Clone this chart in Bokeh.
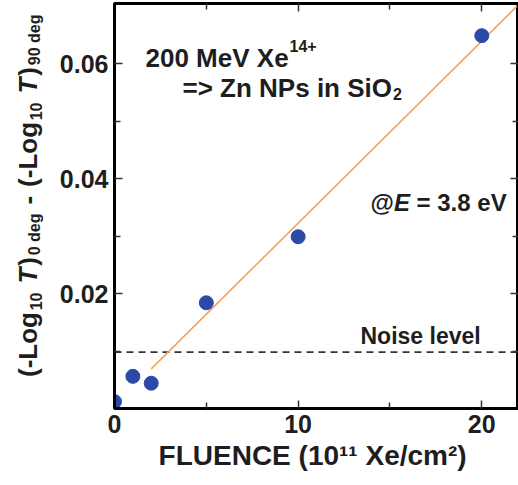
from bokeh.plotting import figure
from bokeh.models import LinearAxis, FixedTicker, Label, Range1d, CustomLabelingPolicy
from bokeh.layouts import row
from bokeh.embed import file_html
from bokeh.resources import INLINE
import math

# ---- data ----
fluence = [0, 1, 2, 5, 10, 20]
dichroism = [0.0012, 0.0056, 0.0044, 0.0184, 0.0299, 0.0649]
fit_x = [2, 22]
fit_y = [0.0069, 0.0703]
noise_level = 0.0098
x_ticks = [0, 10, 20]
x_minor = [5, 15]
y_ticks = [0.02, 0.04, 0.06]
y_minor = [0.01, 0.03, 0.05]
y_tick_labels = {0.02: "0.02", 0.04: "0.04", 0.06: "0.06"}

FONT = "Liberation Sans"
TXT = "#1e1e1e"

# Liberation Sans Bold advance widths (per 1000 em)
W = {' ': 278, '(': 333, ')': 333, '-': 333, 'L': 611, 'o': 611, 'g': 611, 'T': 611,
     'd': 611, 'e': 556, '=': 584, '>': 584, 'Z': 611, 'n': 611, 'N': 722, 'P': 667,
     's': 556, 'i': 278, 'S': 667, 'O': 778, 'M': 833, 'V': 667, 'X': 667, '@': 975,
     'E': 667, '.': 278, '+': 584, 'l': 278, 'v': 556}
for d in "0123456789":
    W[d] = 556

def tw(s, size):
    return sum(W.get(c, 556) for c in s) * size / 1000.0

# ---------------- left strip with the rotated y label ----------------
# (its frame is aligned with the main frame: page rows 0..408)
LW = 50
p0 = figure(width=LW, height=485, x_range=Range1d(0, LW), y_range=Range1d(408, 0),
            output_backend="svg", toolbar_location=None, min_border=0, title=None,
            x_axis_location=None, y_axis_location=None)
p0.xgrid.visible = False
p0.ygrid.visible = False
p0.outline_line_color = None
p0.background_fill_color = "white"
p0.border_fill_color = "white"

MAIN, SUB = 26, 16
parts = [("(-Log", MAIN, "bold", 0), ("10", SUB, "bold", 5), (" T", MAIN, "bold italic", 0),
         (")", MAIN, "bold", 0), ("0 deg", SUB, "bold", 4),
         (" - ", MAIN, "bold", 0), ("(-Log", MAIN, "bold", 0), ("10", SUB, "bold", 5),
         (" T", MAIN, "bold italic", 0), (")", MAIN, "bold", 0), ("90 deg", SUB, "bold", 4)]
gap = 2
ypos = 376
base_x = 35
for text, size, style, shift in parts:
    lead = len(text) - len(text.lstrip())
    ypos -= tw(text[:lead], size)
    t = text.strip()
    w = tw(t, size)
    p0.add_layout(Label(x=base_x + shift - 0.3 * size, y=ypos - w / 2, text=t, text_font=FONT,
                        text_font_style=style, text_font_size=f"{size}px", text_color=TXT,
                        text_align="center", text_baseline="middle", angle=math.pi / 2))
    ypos -= tw(text[lead:], size) + gap

# ---------------- main plot ----------------
MW = 518 - LW
BL = 64
p = figure(width=MW, height=485, x_range=(0, 22), y_range=(0, 0.0705), title=None,
           output_backend="svg", toolbar_location=None,
           min_border_left=BL, min_border_right=0, min_border_top=3, min_border_bottom=77)
p.xgrid.visible = False
p.ygrid.visible = False
p.outline_line_color = "black"
p.outline_line_width = 3
p.background_fill_color = "white"
p.border_fill_color = "white"

def style_axis(ax, labels=True):
    ax.axis_line_color = "black"
    ax.axis_line_width = 3
    ax.major_tick_in = 8
    ax.major_tick_out = 0
    ax.minor_tick_in = 6
    ax.minor_tick_out = 0
    ax.major_tick_line_width = 1.5
    ax.minor_tick_line_width = 1.5
    ax.major_tick_line_color = "#333333"
    ax.minor_tick_line_color = "#333333"
    if labels:
        ax.major_label_text_font = FONT
        ax.major_label_text_font_style = "bold"
        ax.major_label_text_font_size = "25px"
        ax.major_label_text_color = TXT
    else:
        ax.major_label_text_font_size = "0px"
        ax.major_label_standoff = 0
        ax.major_label_policy = CustomLabelingPolicy(code="for (const i of indices) { indices.unset(i) }")

xa = p.xaxis[0]
ya = p.yaxis[0]
xa.ticker = FixedTicker(ticks=x_ticks, minor_ticks=x_minor)
ya.ticker = FixedTicker(ticks=y_ticks, minor_ticks=y_minor)
ya.major_label_overrides = y_tick_labels
style_axis(xa)
style_axis(ya)
xa.major_label_standoff = 6
ya.major_label_standoff = 6
xa.axis_label = "FLUENCE  (10\u00b9\u00b9 Xe/cm\u00b2)"
xa.axis_label_text_font = FONT
xa.axis_label_text_font_style = "bold"
xa.axis_label_text_font_size = "28px"
xa.axis_label_text_color = TXT
xa.axis_label_standoff = 4

top = LinearAxis(ticker=FixedTicker(ticks=x_ticks, minor_ticks=x_minor))
right = LinearAxis(ticker=FixedTicker(ticks=y_ticks, minor_ticks=y_minor))
style_axis(top, labels=False)
style_axis(right, labels=False)
p.add_layout(top, "above")
p.add_layout(right, "right")

p.line(x=[0, 22], y=[noise_level, noise_level], line_color="#333333", line_width=1.8, line_dash="7 5")
p.line(x=fit_x, y=fit_y, line_color="#f5a15a", line_width=1.6)
p.scatter(x=fluence, y=dichroism, size=14, color="#2b4aa8", line_color="#2b4aa8")

FX0, FY0 = LW + BL, 408

def lab(text, px, py, size, style="bold"):
    p.add_layout(Label(x=px - FX0, y=FY0 - py, x_units="screen", y_units="screen",
                       text=text, text_font=FONT, text_font_style=style,
                       text_font_size=f"{size}px", text_color=TXT,
                       text_align="left", text_baseline="alphabetic"))

t1 = "200 MeV Xe"
lab(t1, 145, 57, 26)
lab("14+", 145 + tw(t1, 26) + 1, 45, 16)
t2 = "=> Zn NPs in SiO"
lab(t2, 182, 87, 26)
lab("2", 182 + tw(t2, 26) + 1, 93, 16)

x = 370
lab("@", x, 202, 24); x += tw("@", 24)
lab("E", x, 202, 24, style="bold italic"); x += tw("E ", 24)
lab("= 3.8 eV", x, 202, 24)

lab("Noise level", 360, 335, 23)

open("out.html", "w").write(file_html(row(p0, p), INLINE))
